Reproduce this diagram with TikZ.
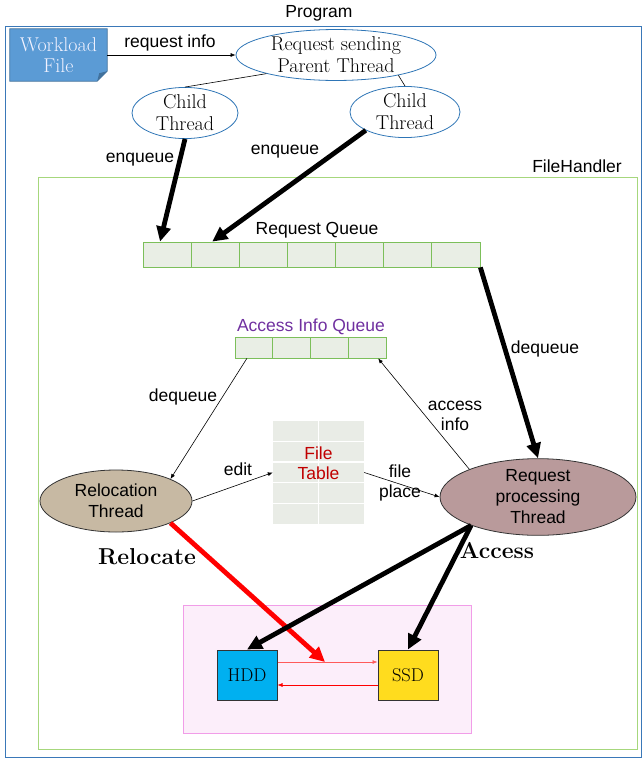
\documentclass[tikz,border=0pt]{standalone}
\usepackage{fontspec}
\newfontfamily\sfont{Liberation Sans}
\usetikzlibrary{shapes.geometric,arrows.meta,calc}
\definecolor{progblue}{HTML}{3A78B8}
\definecolor{wfblue}{HTML}{5B9BD5}
\definecolor{wfdark}{HTML}{41719C}
\definecolor{fhgreen}{HTML}{A6D77C}
\definecolor{qgreen}{HTML}{7CBF5A}
\definecolor{qfill}{HTML}{E9EEE5}
\definecolor{ftfill}{HTML}{E9ECE6}
\definecolor{aqpurple}{HTML}{7030A0}
\definecolor{ftred}{HTML}{C00000}
\definecolor{relfill}{HTML}{C7B9A3}
\definecolor{rpfill}{HTML}{B99A9B}
\definecolor{stfill}{HTML}{FCEEFA}
\definecolor{stborder}{HTML}{F19DE8}
\definecolor{hddblue}{HTML}{00B0F0}
\definecolor{ssdyellow}{HTML}{FFDC1E}
\definecolor{thinred}{HTML}{FF5A5A}
\definecolor{ellblue}{HTML}{2E75B6}
\begin{document}
\begin{tikzpicture}[x=1pt,y=-1pt,
  sanslabel/.style={font=\sfont\fontsize{17.5}{20.5}\selectfont, inner sep=1pt, align=center},
  serifell/.style={ellipse, draw=ellblue, line width=0.8pt, inner sep=0pt, align=center,
     font=\fontsize{20}{22}\selectfont},
  thread/.style={ellipse, draw=black!80, line width=0.8pt, inner sep=0pt, align=center,
     font=\sfont\fontsize{17.5}{21}\selectfont},
  qcell/.style={rectangle, draw=qgreen, fill=qfill, line width=0.8pt, inner sep=0pt},
  bigarrow/.style={line width=4.8pt, -{Triangle[length=15pt,width=14pt]}},
  thinarrow/.style={line width=0.6pt, -{Latex[length=5pt,width=4pt]}},
  disk/.style={rectangle, draw=black!80, line width=1pt, inner sep=0pt,
     minimum width=60pt, minimum height=50pt, font=\fontsize{18.5}{20}\selectfont},
  boldlabel/.style={font=\bfseries\fontsize{23}{26}\selectfont, inner sep=0pt}
]
\useasboundingbox (0,0) rectangle (643,758);

% Program frame
\node[sanslabel] (prog) at (319,13) {Program};
\draw[progblue, line width=1pt] (5,26) rectangle (641,757);

% FileHandler frame
\node[sanslabel] (fh) at (577,166) {FileHandler};
\draw[fhgreen, line width=1pt] (38,177) rectangle (637,749);

% Workload file
\node[inner sep=0pt, minimum width=97pt, minimum height=52pt] (wf) at (58.5,55) {};
\fill[wfblue] (wf.north west) -- (wf.north east) -- ([yshift=10pt]wf.south east)
  -- ([xshift=-10pt]wf.south east) -- (wf.south west) -- cycle;
\draw[wfdark, line width=0.8pt] (wf.north west) -- (wf.north east) -- ([yshift=10pt]wf.south east)
  -- ([xshift=-10pt]wf.south east) -- (wf.south west) -- cycle;
\fill[wfdark] ([yshift=10pt]wf.south east) -- ([xshift=-10pt]wf.south east) -- ([xshift=-8pt,yshift=8pt]wf.south east) -- cycle;
\node[text=white!95!blue, align=center, inner sep=0pt, font=\fontsize{20}{21}\selectfont] (wft) at (wf.center) {Workload\\File};

% Parent and child threads
\node[serifell, minimum width=200pt, minimum height=48pt] (parent) at (336,55) {Request sending\\Parent Thread};
\node[serifell, minimum width=106pt, minimum height=40pt] (lc) at (185,113) {Child\\Thread};
\node[serifell, minimum width=110pt, minimum height=40pt] (rc) at (405,112) {Child\\Thread};

\draw[thinarrow] (wf.east) -- (parent.west);
\node[sanslabel] (ri) at (170,43) {request info};
\draw[line width=0.6pt] (parent.195) -- (lc.north);
\draw[line width=0.6pt] (parent.342) -- (rc.north);

% Request queue
\foreach \i in {1,...,7}
  \node[qcell, minimum width=48.14pt, minimum height=25pt] (rq\i) at ({143+48.14*(\i-0.5)},254.5) {};
\node[sanslabel] (rql) at (317,230) {Request Queue};

\draw[bigarrow] (lc.south) -- ([xshift=-7pt]rq1.north);
\draw[bigarrow] (rc.205) -- ([xshift=-3pt]rq2.north);
\node[sanslabel] (enq1) at (140,160) {enqueue};
\node[sanslabel] (enq2) at (285,152) {enqueue};

% Access info queue
\foreach \i in {1,...,4}
  \node[qcell, minimum width=37.75pt, minimum height=21pt] (aq\i) at ({235+37.75*(\i-0.5)},347.5) {};
\node[sanslabel, text=aqpurple] (aql) at (311,327) {Access Info Queue};

% File table
\node[fill=ftfill, inner sep=0pt, minimum width=91pt, minimum height=103pt] (ft) at (318.5,472.5) {};
\foreach \k in {1,...,4}
  \draw[white, line width=1.2pt] ($(ft.north west)+(0,20.6*\k)$) -- ($(ft.north east)+(0,20.6*\k)$);
\draw[white, line width=1.2pt] (ft.north) -- (ft.south);
\node[sanslabel, text=ftred] (ftl) at (318.5,463) {File\\Table};

% Threads
\node[thread, fill=relfill, minimum width=152pt, minimum height=62pt] (reloc) at (116,501) {Relocation\\Thread};
\node[thread, fill=rpfill, minimum width=196pt, minimum height=66pt] (rp) at (538,497) {Request\\processing\\Thread};

\draw[bigarrow] (rq7.south east) -- (rp.north);
\node[sanslabel] (deq1) at (545,349) {dequeue};

\draw[thinarrow] ([xshift=-7pt]aq1.south) -- (reloc.22);
\node[sanslabel] (deq2) at (183,397) {dequeue};
\draw[thinarrow] (rp.158) -- ([xshift=11pt]aq4.south);
\node[sanslabel] (ai) at (455,416) {access\\info};
\draw[thinarrow] (reloc.east) -- (ft.west);
\node[sanslabel] (ed) at (238,469) {edit};
\draw[thinarrow] (ft.east) -- (rp.west);
\node[sanslabel] (fp) at (400,483) {file\\place};

% Storage
\node[fill=stfill, draw=stborder, line width=1pt, inner sep=0pt, minimum width=288pt, minimum height=128pt] (st) at (327,669) {};
\node[disk, fill=hddblue] (hdd) at (247,675) {HDD};
\node[disk, fill=ssdyellow] (ssd) at (408,675) {SSD};
\draw[thinarrow, thinred] ([yshift=13pt]hdd.east) -- ([yshift=13pt]ssd.west);
\draw[thinarrow, red] ([yshift=-10pt]ssd.west) -- ([yshift=-10pt]hdd.east);
\coordinate (rt) at (325,662);

\draw[bigarrow, red] (reloc.338) -- (rt);
\draw[bigarrow] (rp.203) -- (hdd.north);
\draw[bigarrow] (rp.203) -- (ssd.north);

\node[boldlabel] (rel) at (147,557) {Relocate};
\node[boldlabel] (acc) at (497,551) {Access};
\end{tikzpicture}
\end{document}
